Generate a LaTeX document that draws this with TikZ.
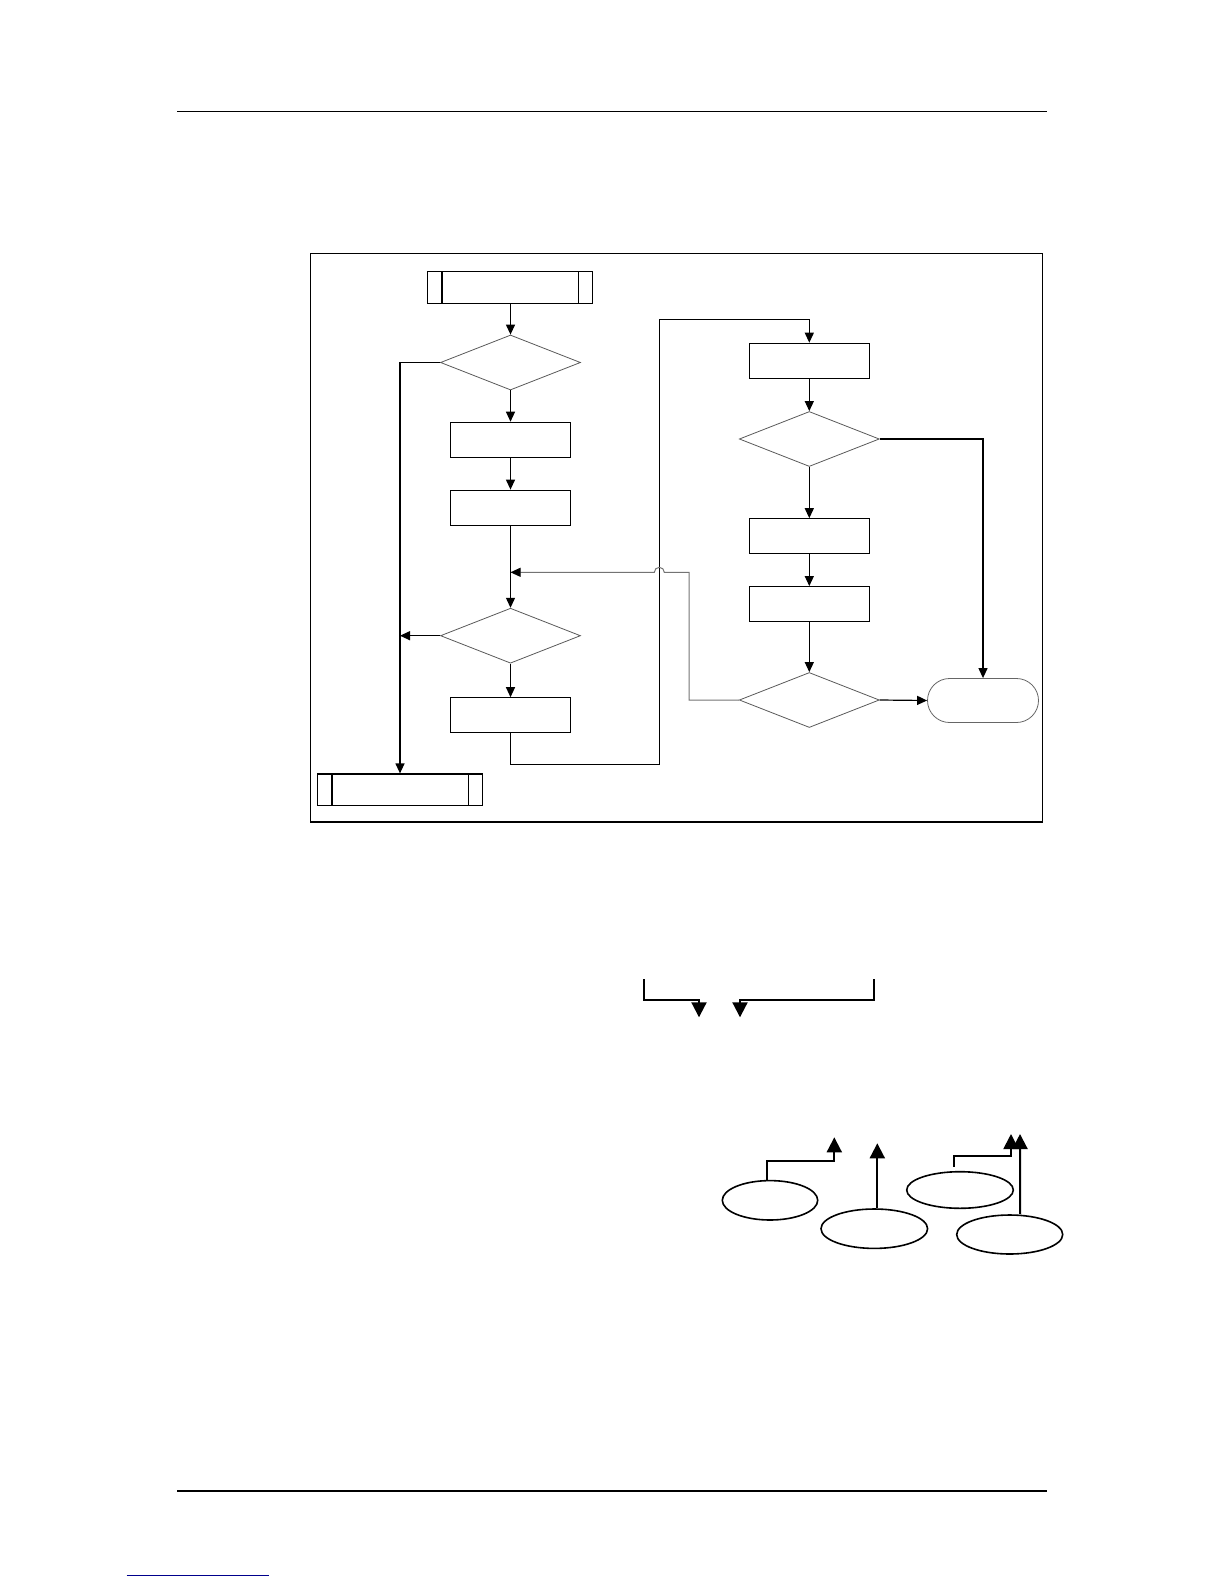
\documentclass[tikz,border=0pt]{standalone}
\usetikzlibrary{arrows.meta,shapes.geometric}

\begin{document}
\begin{tikzpicture}[
  x=0.5pt, y=-0.5pt,
  box/.style={draw, line width=.6pt, minimum width=60pt, minimum height=17.5pt, inner sep=0pt},
  pbox/.style={draw, line width=.6pt, minimum width=82.5pt, minimum height=15.8pt, inner sep=0pt},
  dec/.style={draw=black!65, line width=.4pt, diamond, minimum width=70pt, minimum height=27.5pt, inner sep=0pt},
  term/.style={draw=black!60, line width=.4pt, rounded corners=11pt, minimum width=55.5pt, minimum height=22pt, inner sep=0pt},
  oval/.style={draw, line width=.8pt, ellipse, inner sep=0pt},
  arr/.style={-{Triangle[length=5pt, width=4.5pt]}, line width=.6pt},
  fb/.style={-{Triangle[length=5pt, width=4.5pt, black]}, draw=black!55, line width=.5pt},
  bigarr/.style={-{Triangle[length=7.5pt, width=7.5pt]}, line width=1pt}
]
\useasboundingbox (0,0) rectangle (1224,1584);

% page rules
\draw[line width=.7pt] (177.3,111.3) -- (1046.7,111.3);
\draw[line width=1pt] (177.3,1490.7) -- (1046.7,1490.7);
\draw[color={rgb,255:red,0;green,0;blue,140}, line width=.5pt] (126.7,1575) -- (269,1575);

% frame
\draw[line width=.6pt] (310.7,253.3) rectangle (1042.3,822);
\draw[line width=1.2pt] (310.7,822) -- (1042.3,822);

% left column
\node[pbox] (start) at (510,287.5) {};
\node[dec] (d1) at (510.5,362.5) {};
\node[box] (b1) at (510.5,439.8) {};
\node[box] (b2) at (510.5,507.7) {};
\node[dec] (d2) at (510.5,635.7) {};
\node[box] (b3) at (510.5,715.3) {};
\node[pbox] (stop) at (400,789.8) {};

\foreach \n in {start,stop} {
  \draw[line width=.6pt] ([xshift=7.5pt]\n.north west) -- ([xshift=7.5pt]\n.south west);
  \draw[line width=.6pt] ([xshift=-7.5pt]\n.north east) -- ([xshift=-7.5pt]\n.south east);
}

% right column
\node[box] (r1) at (809.3,360.8) {};
\node[dec] (dr1) at (809.3,439) {};
\node[box] (r2) at (809.3,536.3) {};
\node[box] (r3) at (809.3,604.2) {};
\node[dec] (dr2) at (809.3,700) {};
\node[term] (end) at (983,700.5) {};

\coordinate (lb) at (659.3,764.3);
\coordinate (lt) at (659.3,319.3);
\coordinate (fx) at (689,572.3);
\coordinate (merge) at (510.5,572.3);

\draw[arr] (start.south -| d1) -- (d1);
\draw[arr] (d1.west) -| (stop.north);
\draw[arr] (d1) -- (b1);
\draw[arr] (b1) -- (b2);
\draw[arr] (b2) -- (d2);
\draw[arr] (d2.west) -- (d2.west -| stop.north);
\draw[arr] (d2) -- (b3);
\draw[arr] (b3.south) |- (lb) -- (lt) -| (r1.north);

\draw[arr] (r1) -- (dr1);
\draw[arr] (dr1) -- (r2);
\draw[arr] (r2) -- (r3);
\draw[arr] (r3) -- (dr2);
\draw[arr] (dr1.east) -| (end.north);
\draw[arr] (dr2.east) -- (end.west);
\draw[fb] (dr2.west) -| (fx) -- (664.3,572.3) arc (0:180:2.5pt) -- (merge);

% lower sketch
\coordinate (la) at (644,979.3);
\coordinate (lm) at (699,1000);
\coordinate (lh) at (699,1017.3);
\coordinate (ra) at (874,979.3);
\coordinate (rm) at (740,1000);
\coordinate (rh) at (740,1017.3);
\draw[bigarr] (la) |- (lm) -- (lh);
\draw[bigarr] (ra) |- (rm) -- (rh);

\node[oval, minimum width=47.7pt, minimum height=19.7pt] (ea) at (770,1200.3) {};
\node[oval, minimum width=53.3pt, minimum height=19.7pt] (eb) at (874.3,1228.7) {};
\node[oval, minimum width=53.3pt, minimum height=18.3pt] (ec) at (960,1190) {};
\node[oval, minimum width=53pt, minimum height=19.5pt] (ed) at (1009.7,1234.5) {};

\coordinate (ta) at (834.3,1137.3);
\coordinate (tb) at (877.3,1143.3);
\coordinate (tc) at (1011,1134);
\coordinate (td) at (1020,1134);

\draw[bigarr] ([xshift=-1.5pt]ea.north) |- (834.3,1160.7) -- (ta);
\draw[bigarr] ([xshift=1.5pt]eb.north) -- (tb);
\draw[bigarr] ([shift={(-3pt,2pt)}]ec.north) |- (1011,1156) -- (tc);
\draw[bigarr] ([xshift=5.2pt]ed.north) -- (td);
\end{tikzpicture}
\end{document}
